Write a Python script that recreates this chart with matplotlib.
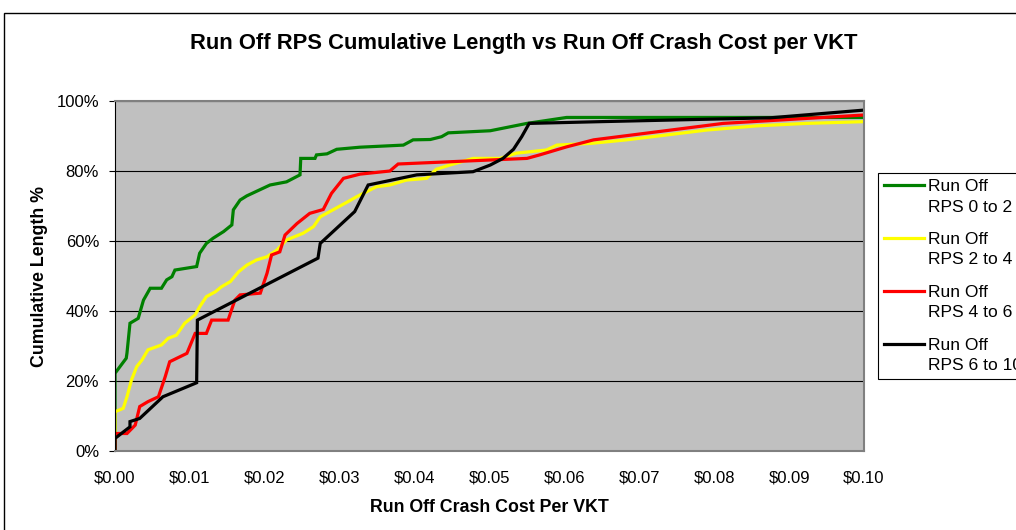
import matplotlib
matplotlib.use("Agg")
import matplotlib.pyplot as plt
from matplotlib.patches import Rectangle
from matplotlib.ticker import FuncFormatter, MultipleLocator
from matplotlib.legend_handler import HandlerLine2D

plt.rcParams['font.family'] = ['Liberation Sans', 'DejaVu Sans']

# cost per VKT ($) vs cumulative length (%)
green_x = [0, 0, 0.0008, 0.0015, 0.0016, 0.0020, 0.0031, 0.0038, 0.0047, 0.0062, 0.0069, 0.0076, 0.0080,
           0.0109, 0.0113, 0.0122, 0.0131, 0.0145, 0.0156, 0.0158, 0.0167, 0.0176, 0.0207, 0.0229, 0.0247,
           0.0248, 0.0267, 0.0269, 0.0283, 0.0296, 0.0327, 0.0385, 0.0398, 0.0421, 0.0436, 0.0445, 0.0501,
           0.0550, 0.0603, 0.10]
green_y = [0, 22.2, 24.5, 26.5, 28.0, 36.5, 37.9, 43.1, 46.5, 46.5, 48.9, 49.8, 51.7,
           52.7, 56.5, 59.3, 60.8, 62.7, 64.6, 68.9, 71.7, 72.9, 76.0, 76.9, 78.9,
           83.6, 83.6, 84.6, 84.9, 86.2, 86.8, 87.4, 88.9, 89.0, 89.8, 90.9, 91.5,
           93.6, 95.3, 95.3]

yellow_x = [0, 0, 0.0011, 0.0016, 0.0022, 0.0029, 0.0036, 0.0044, 0.0062, 0.0071, 0.0082, 0.0093, 0.0107,
            0.0113, 0.0122, 0.0134, 0.0142, 0.0154, 0.0165, 0.0176, 0.0189, 0.0203, 0.0216, 0.0229, 0.0251,
            0.0265, 0.0274, 0.0291, 0.0309, 0.0323, 0.0336, 0.0349, 0.0367, 0.0389, 0.0416, 0.0429, 0.0447,
            0.0478, 0.0514, 0.0536, 0.0576, 0.0590, 0.0636, 0.0683, 0.0790, 0.0857, 0.0923, 0.10]
yellow_y = [0, 11.2, 12.2, 15.5, 20.3, 24.1, 26.0, 28.9, 30.3, 32.2, 33.1, 36.5, 38.9,
            41.2, 44.1, 45.5, 46.9, 48.4, 51.2, 53.1, 54.6, 55.5, 57.4, 60.3, 62.2,
            64.1, 66.9, 68.9, 71.0, 72.7, 74.1, 75.5, 76.0, 77.4, 77.9, 80.5, 81.7,
            83.6, 83.6, 85.1, 86.0, 87.4, 87.9, 88.9, 91.7, 92.9, 93.6, 94.1]

red_x = [0, 0, 0.0016, 0.0027, 0.0033, 0.0044, 0.0058, 0.0067, 0.0073, 0.0096, 0.0107, 0.0122, 0.0129,
         0.0151, 0.0160, 0.0167, 0.0194, 0.0203, 0.0209, 0.0220, 0.0227, 0.0243, 0.0260, 0.0278, 0.0289,
         0.0305, 0.0327, 0.0367, 0.0378, 0.0550, 0.0567, 0.0603, 0.0639, 0.0812, 0.10]
red_y = [0, 5.0, 5.0, 7.4, 12.7, 14.1, 15.5, 21.2, 25.5, 27.9, 33.6, 33.6, 37.4,
         37.4, 43.1, 44.6, 45.1, 50.8, 56.0, 56.9, 61.7, 65.0, 67.9, 69.0, 73.6,
         77.9, 79.1, 80.0, 82.0, 83.6, 84.6, 86.9, 88.9, 93.6, 96.0]

black_x = [0, 0, 0.0020, 0.0020, 0.0033, 0.0064, 0.0109, 0.0110, 0.0271, 0.0274, 0.0320, 0.0338, 0.0403,
           0.0478, 0.0501, 0.0518, 0.0532, 0.0543, 0.0553, 0.0648, 0.0875, 0.10]
black_y = [0, 3.6, 6.9, 8.4, 9.3, 15.5, 19.5, 37.4, 55.1, 59.3, 68.4, 76.0, 78.9,
           79.8, 81.7, 83.6, 86.2, 89.8, 93.6, 94.1, 95.2, 97.4]

labels = ["Run Off\nRPS 0 to 2", "Run Off\nRPS 2 to 4", "Run Off\nRPS 4 to 6", "Run Off\nRPS 6 to 10"]
colors = ["#008000", "#FFFF00", "#FF0000", "#000000"]


class TopLineHandler(HandlerLine2D):
    # put the legend line next to the first text line, like Excel does
    def create_artists(self, legend, orig_handle, xdescent, ydescent, width, height, fontsize, trans):
        arts = super().create_artists(legend, orig_handle, xdescent, ydescent, width, height, fontsize, trans)
        for a in arts:
            a.set_ydata([y + fontsize * 0.68 for y in a.get_ydata()])
        return arts


fig = plt.figure(figsize=(10.16, 5.30), dpi=100)
ax = fig.add_axes([115 / 1016, 1 - 451 / 530, (864 - 115) / 1016, (451 - 101) / 530])
ax.set_facecolor("#C0C0C0")

lines = []
for xs, ys, c, lab in zip([green_x, yellow_x, red_x, black_x], [green_y, yellow_y, red_y, black_y], colors, labels):
    ln, = ax.plot(xs, ys, color=c, lw=2.3, label=lab, solid_joinstyle="miter")
    lines.append(ln)

ax.set_xlim(0, 0.10)
ax.set_ylim(0, 100)
ax.xaxis.set_major_locator(MultipleLocator(0.01))
ax.yaxis.set_major_locator(MultipleLocator(20))
ax.xaxis.set_major_formatter(FuncFormatter(lambda v, p: f"${v:.2f}"))
ax.yaxis.set_major_formatter(FuncFormatter(lambda v, p: f"{v:.0f}%"))
ax.grid(axis="y", color="black", lw=0.8)
ax.set_axisbelow(True)
ax.tick_params(axis="both", labelsize=12, direction="out", length=4, width=0.8)
ax.tick_params(axis="x", length=0, pad=14)
ax.tick_params(axis="y", pad=7.5)
for s in ["top", "right", "bottom"]:
    ax.spines[s].set_color("#808080")
    ax.spines[s].set_linewidth(1.5)
ax.spines["left"].set_color("black")

ax.set_xlabel("Run Off Crash Cost Per VKT", fontsize=12.8, fontweight="bold", labelpad=10)
ax.set_ylabel("Cumulative Length %", fontsize=12.8, fontweight="bold", labelpad=6)
fig.text(524 / 1016, 1 - 44 / 530, "Run Off RPS Cumulative Length vs Run Off Crash Cost per VKT",
         ha="center", va="center", fontsize=15.8, fontweight="bold")

leg = fig.legend(handles=lines, loc="upper left", bbox_to_anchor=(878 / 1016, 1 - 173 / 530), fontsize=12.6,
                 frameon=True, fancybox=False, edgecolor="black", framealpha=1,
                 handlelength=2.3, handletextpad=0.23, labelspacing=1.0, borderpad=0.35,
                 borderaxespad=0, handler_map={ln: TopLineHandler() for ln in lines})
leg.get_frame().set_linewidth(0.8)
for t in leg.get_texts():
    t.set_linespacing(1.45)

fig.patches.append(Rectangle((4 / 1016, -0.1), 2, 1 - 13 / 530 + 0.1, transform=fig.transFigure,
                             fill=False, edgecolor="black", lw=1.0))

fig.savefig("out.png", dpi=100)
